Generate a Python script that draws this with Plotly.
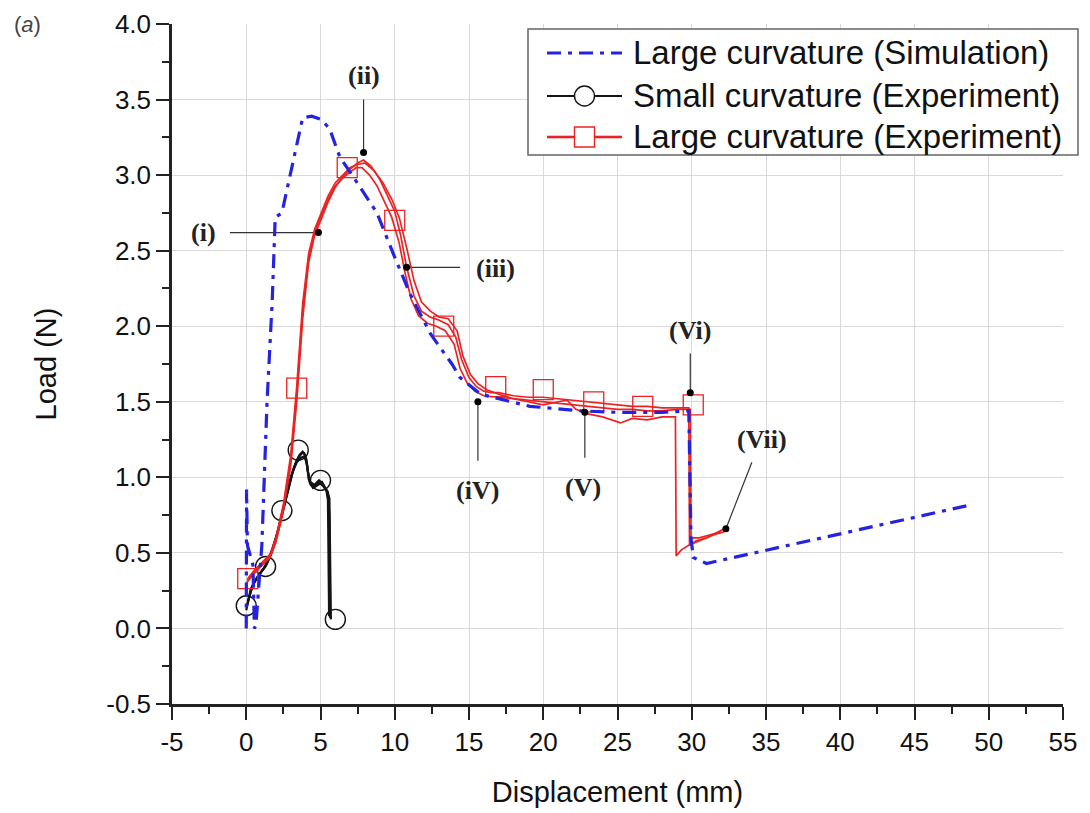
import plotly.graph_objects as go

# ---- Simulation: large curvature ----
sim_x = [0.0, 0.02, 0.08, 0.45, 0.55, 0.65, 1.05, 1.4, 1.75, 1.95, 2.4, 3.0, 3.8,
         4.4, 5.0, 5.6, 6.3, 7.2, 8.8, 9.9, 11.0, 12.4, 13.85, 14.4, 15.8, 19.1,
         22.5, 25.0, 28.0, 29.8, 29.95, 30.1, 31.0, 48.9]
sim_y = [0.0, 0.92, 0.55, 0.42, 0.0, 0.02, 0.55, 1.5, 2.17, 2.72, 2.75, 3.02, 3.38,
         3.39, 3.37, 3.31, 3.12, 2.99, 2.75, 2.48, 2.22, 1.95, 1.75, 1.66, 1.55, 1.47,
         1.44, 1.43, 1.43, 1.44, 0.6, 0.47, 0.43, 0.82]

# ---- Experiment: small curvature (three overlapping runs) ----
small_x1 = [0.0, 0.3, 0.7, 1.0, 1.4, 1.8, 2.2, 2.6, 3.0, 3.3, 3.6, 3.8, 3.95, 4.1,
            4.2, 4.35, 4.6, 4.9, 5.1, 5.3, 5.5, 5.6, 5.62, 5.65]
small_y1 = [0.12, 0.26, 0.33, 0.37, 0.43, 0.53, 0.67, 0.84, 1.0, 1.09, 1.15, 1.17,
            1.15, 1.08, 0.99, 0.95, 0.94, 0.97, 0.97, 0.93, 0.9, 0.75, 0.3, 0.07]
small_x2 = [0.05, 0.4, 0.8, 1.2, 1.6, 2.0, 2.4, 2.8, 3.1, 3.4, 3.7, 3.9, 4.05, 4.2,
            4.3, 4.5, 4.8, 5.0, 5.2, 5.4, 5.5, 5.55, 5.58]
small_y2 = [0.15, 0.28, 0.35, 0.4, 0.48, 0.6, 0.75, 0.92, 1.03, 1.1, 1.13, 1.14,
            1.1, 1.01, 0.96, 0.93, 0.95, 0.96, 0.94, 0.91, 0.85, 0.4, 0.08]
small_x3 = [0.1, 0.5, 0.9, 1.3, 1.7, 2.1, 2.5, 2.9, 3.2, 3.5, 3.75, 3.9, 4.05, 4.15,
            4.3, 4.6, 4.9, 5.2, 5.45, 5.6, 5.68, 5.7]
small_y3 = [0.18, 0.3, 0.36, 0.41, 0.5, 0.63, 0.79, 0.95, 1.06, 1.13, 1.16, 1.16,
            1.12, 1.04, 0.97, 0.95, 0.98, 0.95, 0.91, 0.86, 0.3, 0.06]
small_mk_x = [0.0, 1.3, 2.4, 3.5, 5.0, 6.0]
small_mk_y = [0.15, 0.41, 0.78, 1.18, 0.98, 0.06]

# ---- Experiment: large curvature (three runs) ----
large_x1 = [0.0, 0.5, 1.0, 1.6, 2.0, 2.5, 3.0, 3.4, 3.8, 4.2, 4.6, 5.0, 5.5, 6.0,
            6.5, 7.0, 7.5, 7.9, 8.4, 9.0, 9.5, 10.0, 10.4, 10.8, 11.3, 11.8, 12.4,
            13.0, 13.6, 14.1, 14.5, 15.0, 15.5, 16.0, 16.5, 17.0, 18.0, 19.0, 20.0,
            21.0, 22.0, 23.0, 24.0, 25.0, 26.0, 27.0, 28.0, 29.0, 29.8, 29.85, 30.3,
            31.0, 31.6, 32.2]
large_y1 = [0.3, 0.36, 0.41, 0.47, 0.57, 0.78, 1.08, 1.5, 2.05, 2.42, 2.6, 2.7,
            2.82, 2.92, 2.99, 3.04, 3.08, 3.1, 3.06, 2.97, 2.86, 2.76, 2.6, 2.39,
            2.2, 2.1, 2.06, 2.04, 2.01, 1.93, 1.78, 1.66, 1.6, 1.57, 1.56, 1.56,
            1.54, 1.53, 1.53, 1.52, 1.51, 1.5, 1.49, 1.48, 1.47, 1.47, 1.46, 1.46,
            1.46, 0.55, 0.58, 0.6, 0.63, 0.66]
large_x2 = [0.05, 0.5, 1.0, 1.6, 2.0, 2.5, 3.0, 3.4, 3.8, 4.2, 4.6, 5.0, 5.5, 6.0,
            6.5, 7.0, 7.4, 7.8, 8.3, 8.8, 9.3, 9.8, 10.3, 10.7, 11.1, 11.6, 12.2,
            12.8, 13.4, 14.0, 14.4, 14.9, 15.4, 16.0, 17.0, 18.0, 19.0, 20.0, 21.0,
            22.0, 23.0, 24.0, 25.0, 26.0, 27.0, 28.0, 29.0, 29.9, 29.95, 30.5, 31.3,
            32.0]
large_y2 = [0.32, 0.37, 0.42, 0.48, 0.59, 0.8, 1.12, 1.55, 2.1, 2.45, 2.62, 2.72,
            2.84, 2.93, 2.98, 3.02, 3.05, 3.05, 3.0, 2.93, 2.83, 2.72, 2.55, 2.35,
            2.18, 2.07, 2.02, 2.0, 1.97, 1.88, 1.72, 1.62, 1.57, 1.54, 1.53, 1.52,
            1.51, 1.5, 1.49, 1.48, 1.47, 1.46, 1.45, 1.45, 1.44, 1.44, 1.45, 1.45,
            0.6, 0.6, 0.62, 0.64]
large_x3 = [0.1, 0.5, 1.0, 1.6, 2.0, 2.5, 3.0, 3.4, 3.8, 4.2, 4.6, 5.0, 5.5, 6.0,
            6.5, 7.0, 7.5, 8.0, 8.6, 9.2, 9.8, 10.3, 10.8, 11.3, 11.8, 12.4, 13.0,
            13.6, 14.2, 14.6, 15.1, 15.6, 16.2, 17.0, 18.0, 19.0, 20.0, 21.0, 21.6,
            22.2, 23.0, 24.0, 25.2, 26.0, 27.0, 28.0, 28.9, 28.95, 29.3, 29.8, 30.5,
            31.5, 32.2]
large_y3 = [0.33, 0.38, 0.43, 0.49, 0.6, 0.82, 1.15, 1.6, 2.15, 2.48, 2.64, 2.74,
            2.86, 2.95, 3.0, 3.05, 3.07, 3.08, 3.03, 2.95, 2.84, 2.72, 2.52, 2.3,
            2.16, 2.1, 2.06, 2.05, 1.97, 1.8, 1.68, 1.62, 1.58, 1.55, 1.52, 1.5,
            1.48, 1.5, 1.51, 1.45, 1.42, 1.4, 1.36, 1.39, 1.38, 1.4, 1.4, 0.48,
            0.52, 0.55, 0.58, 0.62, 0.64]
large_mk_x = [0.1, 3.4, 6.8, 10.0, 13.3, 16.8, 20.0, 23.4, 26.7, 30.1]
large_mk_y = [0.33, 1.59, 3.05, 2.70, 2.0, 1.60, 1.58, 1.50, 1.47, 1.48]

# ---- Stage labels with leader lines ----
stage_text = ["(i)", "(ii)", "(iii)", "(iV)", "(V)", "(Vi)", "(Vii)"]
stage_dot_x = [4.86, 7.9, 10.8, 15.6, 22.8, 29.9, 32.3]
stage_dot_y = [2.62, 3.15, 2.39, 1.50, 1.43, 1.56, 0.66]
stage_lead_x = [-1.1, 7.9, 14.4, 15.6, 22.8, 29.9, 34.05]
stage_lead_y = [2.62, 3.50, 2.39, 1.11, 1.13, 1.82, 1.10]
stage_lab_x = [-2.9, 7.9, 16.8, 15.6, 22.7, 29.9, 34.7]
stage_lab_y = [2.62, 3.66, 2.38, 0.91, 0.93, 1.97, 1.25]

# ---- Axis ticks (plain hyphen for negatives) ----
x_ticks = [-5, 0, 5, 10, 15, 20, 25, 30, 35, 40, 45, 50, 55]
x_tick_text = [str(v) for v in x_ticks]
y_ticks = [-0.5, 0.0, 0.5, 1.0, 1.5, 2.0, 2.5, 3.0, 3.5, 4.0]
y_tick_text = ["%.1f" % v for v in y_ticks]

# ---- Legend entries ----
legend_names = ["Large curvature (Simulation)",
                "Small curvature (Experiment)",
                "Large curvature (Experiment)"]

BLUE = "rgb(35,35,225)"
RED = "rgb(235,35,35)"
BLACK = "rgb(20,20,20)"
SIM_DASH = "14px,7px,4px,7px"
SANS = "Liberation Sans, Arial, sans-serif"

W, H = 1090, 813
ML, MR, MT, MB = 172, 27, 24, 109
PW, PH = W - ML - MR, H - MT - MB


def px_x(p):
    """pixel column -> paper x"""
    return (p - ML) / PW


def px_y(p):
    """pixel row -> paper y"""
    return (H - MB - p) / PH


fig = go.Figure()

# leader lines (drawn first so curves sit on top)
for dx, dy, lx, ly in zip(stage_dot_x, stage_dot_y, stage_lead_x, stage_lead_y):
    fig.add_trace(go.Scatter(x=[dx, lx], y=[dy, ly], mode="lines",
                             line=dict(color="#333", width=1.2),
                             showlegend=False, hoverinfo="skip"))

# small curvature experiment
for sx, sy in [(small_x1, small_y1), (small_x2, small_y2), (small_x3, small_y3)]:
    fig.add_trace(go.Scatter(x=sx, y=sy, mode="lines",
                             line=dict(color=BLACK, width=2.2),
                             showlegend=False))
fig.add_trace(go.Scatter(x=small_mk_x, y=small_mk_y, mode="markers",
                         marker=dict(symbol="circle-open", size=20,
                                     color=BLACK, line=dict(width=1.4)),
                         showlegend=False))

# large curvature experiment
for lx_, ly_ in [(large_x1, large_y1), (large_x2, large_y2), (large_x3, large_y3)]:
    fig.add_trace(go.Scatter(x=lx_, y=ly_, mode="lines",
                             line=dict(color=RED, width=1.7),
                             showlegend=False))
fig.add_trace(go.Scatter(x=large_mk_x, y=large_mk_y, mode="markers",
                         marker=dict(symbol="square-open", size=20,
                                     color=RED, line=dict(width=1.3)),
                         showlegend=False))

# simulation
fig.add_trace(go.Scatter(x=sim_x, y=sim_y, mode="lines",
                         line=dict(color=BLUE, width=3.2, dash=SIM_DASH),
                         showlegend=False))

# stage dots
fig.add_trace(go.Scatter(x=stage_dot_x, y=stage_dot_y, mode="markers",
                         marker=dict(color="black", size=7),
                         showlegend=False, hoverinfo="skip"))

for t, x, y in zip(stage_text, stage_lab_x, stage_lab_y):
    fig.add_annotation(x=x, y=y, text="<b>" + t + "</b>", showarrow=False,
                       font=dict(family="Liberation Serif, Times New Roman, serif",
                                 size=26, color="#222"),
                       xanchor="center", yanchor="middle")

fig.add_annotation(xref="paper", yref="paper", x=px_x(27), y=px_y(25),
                   text="(<i>a</i>)", showarrow=False,
                   font=dict(family=SANS, size=22, color="#444"),
                   xanchor="center", yanchor="middle")

# ---- boxed legend in the upper right ----
fig.add_shape(type="rect", xref="paper", yref="paper",
              x0=px_x(528), x1=px_x(1078), y0=px_y(155), y1=px_y(29),
              line=dict(color="#666", width=1.5), fillcolor="white", layer="above")
row_px = [53, 96, 137]
sym_x0, sym_x1, sym_xc = px_x(547), px_x(622), px_x(584.5)
half_w, half_h = 10 / PW, 10 / PH
legend_styles = [(BLUE, 3.2, SIM_DASH, None),
                 (BLACK, 2.0, "solid", "circle"),
                 (RED, 2.6, "solid", "rect")]
for name, rp, (col, lw, dash, mk) in zip(legend_names, row_px, legend_styles):
    yy = px_y(rp)
    if mk is None:
        fig.add_shape(type="line", xref="paper", yref="paper",
                      x0=sym_x0, x1=sym_x1, y0=yy, y1=yy,
                      line=dict(color=col, width=lw, dash=dash), layer="above")
    else:
        for a, b in [(sym_x0, sym_xc - half_w), (sym_xc + half_w, sym_x1)]:
            fig.add_shape(type="line", xref="paper", yref="paper",
                          x0=a, x1=b, y0=yy, y1=yy,
                          line=dict(color=col, width=lw), layer="above")
        fig.add_shape(type=mk, xref="paper", yref="paper",
                      x0=sym_xc - half_w, x1=sym_xc + half_w,
                      y0=yy - half_h, y1=yy + half_h,
                      line=dict(color=col, width=1.4), fillcolor="white",
                      layer="above")
    fig.add_annotation(xref="paper", yref="paper", x=px_x(631), y=yy,
                       text=name, showarrow=False, xanchor="left",
                       yanchor="middle",
                       font=dict(family=SANS, size=33, color="#111"))

axis_font = dict(family=SANS, size=26, color="#111")

fig.update_xaxes(range=[-5, 55], tickmode="array", tickvals=x_ticks,
                 ticktext=x_tick_text, ticks="outside", ticklen=13,
                 tickwidth=2, tickcolor="#222",
                 minor=dict(ticks="outside", ticklen=7, dtick=2.5, tick0=0,
                            tickwidth=2, tickcolor="#222", showgrid=False),
                 showgrid=True, gridcolor="#d9d9d9", gridwidth=1,
                 showline=True, linecolor="#222", linewidth=2.5, zeroline=False,
                 tickfont=axis_font,
                 title=dict(text="Displacement (mm)", standoff=26,
                            font=dict(family=SANS, size=29, color="#111")))
fig.update_yaxes(range=[-0.5, 4.0], tickmode="array", tickvals=y_ticks,
                 ticktext=y_tick_text,
                 ticks="outside", ticklen=13, tickwidth=2, tickcolor="#222",
                 minor=dict(ticks="outside", ticklen=7, dtick=0.25, tick0=0,
                            tickwidth=2, tickcolor="#222", showgrid=False),
                 showgrid=True, gridcolor="#d9d9d9", gridwidth=1,
                 showline=True, linecolor="#222", linewidth=2.5, zeroline=False,
                 tickfont=axis_font,
                 title=dict(text="Load (N)", standoff=42,
                            font=dict(family=SANS, size=29, color="#111")))

fig.update_layout(
    width=W, height=H,
    margin=dict(l=ML, r=MR, t=MT, b=MB, autoexpand=False),
    plot_bgcolor="white", paper_bgcolor="white",
    showlegend=False,
)

fig.write_html("out.html")
